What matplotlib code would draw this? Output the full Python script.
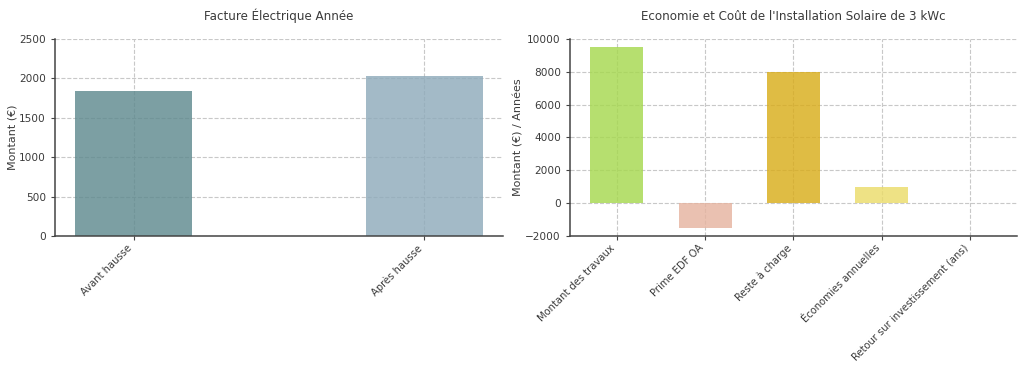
import matplotlib.pyplot as plt

# facture electrique
facture_labels = ['Avant hausse', 'Après hausse']
facture_values = [1840, 2030]
facture_colors = ['#5f8a8f', '#8fabbb']

# installation solaire 3 kWc
solaire_labels = ['Montant des travaux', 'Prime EDF OA', 'Reste à charge',
                  'Économies annuelles', 'Retour sur investissement (ans)']
solaire_values = [9500, -1500, 8000, 1000, 8]
solaire_colors = ['#a6d84f', '#e6b4a0', '#d9ad1b', '#ebdc6a', '#9ec0d8']

text_color = '#3b3b3b'
plt.rcParams['font.family'] = 'DejaVu Sans'
plt.rcParams['text.color'] = text_color
plt.rcParams['axes.labelcolor'] = text_color
plt.rcParams['xtick.color'] = text_color
plt.rcParams['ytick.color'] = text_color

fig = plt.figure(figsize=(10.24, 3.71), dpi=100)
ax1 = fig.add_axes([0.0537, 0.364, 0.4375, 0.531])
ax2 = fig.add_axes([0.5566, 0.364, 0.4365, 0.531])


def style(ax):
    ax.spines['top'].set_visible(False)
    ax.spines['right'].set_visible(False)
    for s in ['left', 'bottom']:
        ax.spines[s].set_color('#444444')
        ax.spines[s].set_linewidth(1.1)
    ax.grid(True, linestyle='--', color='#c8c8c8', linewidth=0.8)
    ax.set_axisbelow(True)
    ax.tick_params(axis='both', labelsize=7.6, length=3, width=0.8, color='#444444')
    ax.tick_params(axis='x', pad=2, labelsize=7.2)


# left chart
x1 = range(len(facture_labels))
ax1.bar(x1, facture_values, width=0.4, color=facture_colors, alpha=0.82)
ax1.set_xticks(list(x1))
ax1.set_xticklabels(facture_labels, rotation=45, ha='right')
ax1.set_ylim(0, 2500)
ax1.set_ylabel('Montant (€)', fontsize=8, labelpad=1.5)
ax1.set_title('Facture Électrique Année', fontsize=8.6, pad=14)
style(ax1)

# right chart
x2 = range(len(solaire_labels))
ax2.bar(x2, solaire_values, width=0.6, color=solaire_colors, alpha=0.82)
ax2.set_xticks(list(x2))
ax2.set_xticklabels(solaire_labels, rotation=45, ha='right')
ax2.set_ylim(-2000, 10000)
ax2.set_ylabel('Montant (€) / Années', fontsize=8, labelpad=1.5)
ax2.set_title("Economie et Coût de l'Installation Solaire de 3 kWc", fontsize=8.6, pad=14)
style(ax2)

fig.savefig('out.png', dpi=100)
